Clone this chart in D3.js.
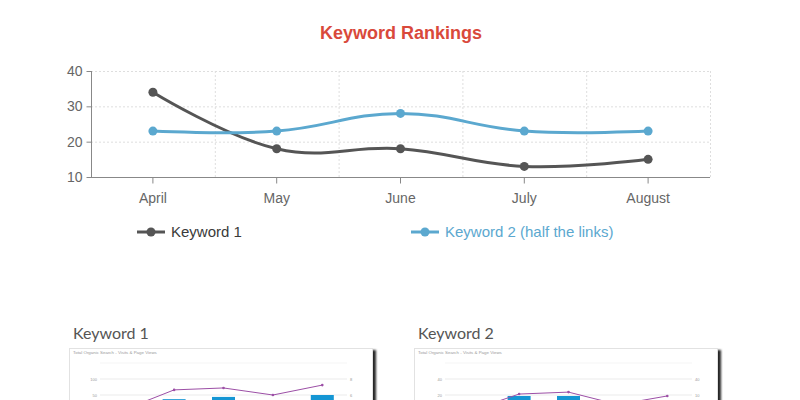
<!DOCTYPE html>
<html lang="en">
<head>
    <meta charset="UTF-8">
    <script src="https://d3js.org/d3.v7.min.js"></script>
    <title>Keyword Rankings</title>
    <style>
        body { margin: 0; background: #fff; }
        svg { display: block; }
    </style>
</head>
<body>
    <div id="app"></div>
    <script>
        // main chart data
        const months = ['April', 'May', 'June', 'July', 'August']
        const keyword1 = [34, 18, 18, 13, 15]
        const keyword2 = [23, 23, 28, 23, 23]
        const y_ticks = [10, 20, 30, 40]
        const series_names = ['Keyword 1', 'Keyword 2 (half the links)']
        const series_colors = ['#555555', '#5ba8cf']

        // thumbnails below (screenshots of other reports)
        const thumb_titles = ['Keyword 1', 'Keyword 2']
        const thumb_cats = ['Apr', 'May', 'Jun', 'Jul', 'Aug']
        const thumb_views_1 = [5, 66, 72, 50, 81]
        const thumb_visits_1 = [8, 37, 44, 8, 50]
        const thumb_views_2 = [0, 53, 59, 20, 47]
        const thumb_visits_2 = [8, 47, 47, 8, 8]
        const thumb_grid = [50, 100, 150]
        const thumb_left_labels = [['100', '50'], ['40', '20']]
        const thumb_right_labels = [['8', '6'], ['40', '10']]

        const svg_width = 800
        const svg_height = 400
        const font = '"Liberation Sans", Arial, sans-serif'

        const svg = d3.select('#app')
            .append('svg')
            .attr('width', svg_width)
            .attr('height', svg_height)

        const defs = svg.append('defs')
        const shadow = defs.append('filter')
            .attr('id', 'shadow')
            .attr('x', '-5%').attr('y', '-5%')
            .attr('width', '115%').attr('height', '120%')
        shadow.append('feDropShadow')
            .attr('dx', 3).attr('dy', 2)
            .attr('stdDeviation', 1.3)
            .attr('flood-color', '#000')
            .attr('flood-opacity', 0.85)

        // title
        svg.append('text')
            .attr('x', 401)
            .attr('y', 39)
            .attr('text-anchor', 'middle')
            .style('font-family', font)
            .style('font-size', '18px')
            .style('font-weight', 'bold')
            .attr('fill', '#d9493b')
            .text('Keyword Rankings')

        const plot_left = 91, plot_right = 710, plot_top = 71, plot_bottom = 177

        const x_scale = d3.scaleBand()
            .domain(months)
            .range([plot_left, plot_right])
        const x_pos = function (d) { return x_scale(d) + x_scale.bandwidth() / 2 }
        const y_scale = d3.scaleLinear()
            .domain([10, 40])
            .range([plot_bottom, plot_top])

        // grid
        const grid = svg.append('g')
        grid.selectAll('.hgrid')
            .data(y_ticks.slice(1))
            .enter()
            .append('line')
            .attr('x1', plot_left).attr('x2', plot_right)
            .attr('y1', function (d) { return y_scale(d) + 0.5 })
            .attr('y2', function (d) { return y_scale(d) + 0.5 })
            .attr('stroke', '#dedede')
            .attr('stroke-dasharray', '2,2')
        grid.selectAll('.vgrid')
            .data(months)
            .enter()
            .append('line')
            .attr('x1', function (d) { return x_scale(d) + x_scale.bandwidth() + 0.5 })
            .attr('x2', function (d) { return x_scale(d) + x_scale.bandwidth() + 0.5 })
            .attr('y1', plot_top).attr('y2', plot_bottom)
            .attr('stroke', '#dedede')
            .attr('stroke-dasharray', '2,2')

        // axes
        const y_axis = svg.append('g')
            .attr('transform', 'translate(' + (plot_left + 0.5) + ',0)')
            .call(d3.axisLeft(y_scale).tickValues(y_ticks).tickSize(5).tickPadding(4))
        const x_axis = svg.append('g')
            .attr('transform', 'translate(0,' + (plot_bottom + 0.5) + ')')
            .call(d3.axisBottom(x_scale).tickSize(6).tickPadding(10))
        svg.selectAll('.domain').attr('stroke', '#888')
        svg.selectAll('.tick line').attr('stroke', '#888')
        svg.selectAll('.tick text')
            .attr('fill', '#666')
            .style('font-family', font)
            .style('font-size', '14px')
        // no outer ticks on the axis lines
        x_axis.select('.domain').attr('d', 'M' + plot_left + ',0H' + plot_right)
        y_axis.select('.domain').attr('d', 'M0,' + plot_top + 'V' + plot_bottom)

        // lines
        const line = d3.line()
            .x(function (d, i) { return x_pos(months[i]) })
            .y(function (d) { return y_scale(d) })
            .curve(d3.curveCardinal.tension(-0.2))

        const all_series = [keyword1, keyword2]
        all_series.forEach(function (values, s) {
            svg.append('path')
                .datum(values)
                .attr('d', line)
                .attr('fill', 'none')
                .attr('stroke', series_colors[s])
                .attr('stroke-width', 3)
            svg.selectAll('.dot' + s)
                .data(values)
                .enter()
                .append('circle')
                .attr('cx', function (d, i) { return x_pos(months[i]) })
                .attr('cy', function (d) { return y_scale(d) })
                .attr('r', 4.5)
                .attr('fill', series_colors[s])
        })

        // legend
        const legend_x = [137, 411]
        series_names.forEach(function (name, s) {
            const g = svg.append('g').attr('transform', 'translate(' + legend_x[s] + ',232)')
            g.append('line')
                .attr('x1', 0).attr('x2', 28)
                .attr('stroke', series_colors[s])
                .attr('stroke-width', 3)
            g.append('circle').attr('cx', 14).attr('r', 4.5).attr('fill', series_colors[s])
            g.append('text')
                .attr('x', 34).attr('y', 5)
                .style('font-family', font)
                .style('font-size', '15px')
                .attr('fill', s === 0 ? '#3a3a3a' : series_colors[s])
                .text(name)
        })

        // thumbnails
        const thumb_x = [69, 414]
        const thumb_views = [thumb_views_1, thumb_views_2]
        const thumb_visits = [thumb_visits_1, thumb_visits_2]
        thumb_titles.forEach(function (title, t) {
            const ox = thumb_x[t]
            svg.append('text')
                .attr('x', ox + 4).attr('y', 339)
                .style('font-family', 'Lato, sans-serif')
                .style('font-size', '16px')
                .attr('fill', '#555')
                .text(title)

            const g = svg.append('g').attr('transform', 'translate(' + ox + ',348)')
            g.append('rect')
                .attr('width', 304).attr('height', 80)
                .attr('fill', '#fff')
                .attr('filter', 'url(#shadow)')
            g.append('rect')
                .attr('x', 0.5).attr('y', 0.5)
                .attr('width', 303).attr('height', 80)
                .attr('fill', 'none')
                .attr('stroke', '#e2e2e2')
            g.append('text')
                .attr('x', 4).attr('y', 6)
                .style('font-family', font)
                .style('font-size', '4.4px')
                .attr('fill', '#999')
                .text('Total Organic Search - Visits & Page Views')

            const tx = d3.scaleBand().domain(thumb_cats).range([31, 278])
            const tc = function (d) { return tx(d) + tx.bandwidth() / 2 }
            const ty = d3.scaleLinear().domain([0, 150]).range([63, 15])

            g.selectAll('.tgrid')
                .data(thumb_grid)
                .enter()
                .append('line')
                .attr('x1', 31).attr('x2', 278)
                .attr('y1', function (d) { return ty(d) })
                .attr('y2', function (d) { return ty(d) })
                .attr('stroke', function (d, i) { return i === 2 ? '#eee' : '#ddd' })
                .attr('stroke-width', 0.6)
            g.selectAll('.tleft')
                .data(thumb_left_labels[t])
                .enter()
                .append('text')
                .attr('x', 28)
                .attr('y', function (d, i) { return ty(thumb_grid[1 - i]) + 1.5 })
                .attr('text-anchor', 'end')
                .style('font-family', font)
                .style('font-size', '4px')
                .attr('fill', '#999')
                .text(function (d) { return d })
            g.selectAll('.tright')
                .data(thumb_right_labels[t])
                .enter()
                .append('text')
                .attr('x', 281)
                .attr('y', function (d, i) { return ty(thumb_grid[1 - i]) + 1.5 })
                .style('font-family', font)
                .style('font-size', '4px')
                .attr('fill', '#999')
                .text(function (d) { return d })

            g.selectAll('.tbar')
                .data(thumb_visits[t])
                .enter()
                .append('rect')
                .attr('x', function (d, i) { return tc(thumb_cats[i]) - 11.5 })
                .attr('y', function (d) { return ty(d) })
                .attr('width', 23)
                .attr('height', function (d) { return ty(0) - ty(d) })
                .attr('fill', '#1596d4')

            g.append('path')
                .datum(thumb_views[t])
                .attr('d', d3.line()
                    .x(function (d, i) { return tc(thumb_cats[i]) })
                    .y(function (d) { return ty(d) }))
                .attr('fill', 'none')
                .attr('stroke', '#9c4fa6')
                .attr('stroke-width', 1)
            g.selectAll('.tdot')
                .data(thumb_views[t])
                .enter()
                .append('circle')
                .attr('cx', function (d, i) { return tc(thumb_cats[i]) })
                .attr('cy', function (d) { return ty(d) })
                .attr('r', 1.3)
                .attr('fill', '#9c4fa6')
        })
    </script>
</body>
</html>
